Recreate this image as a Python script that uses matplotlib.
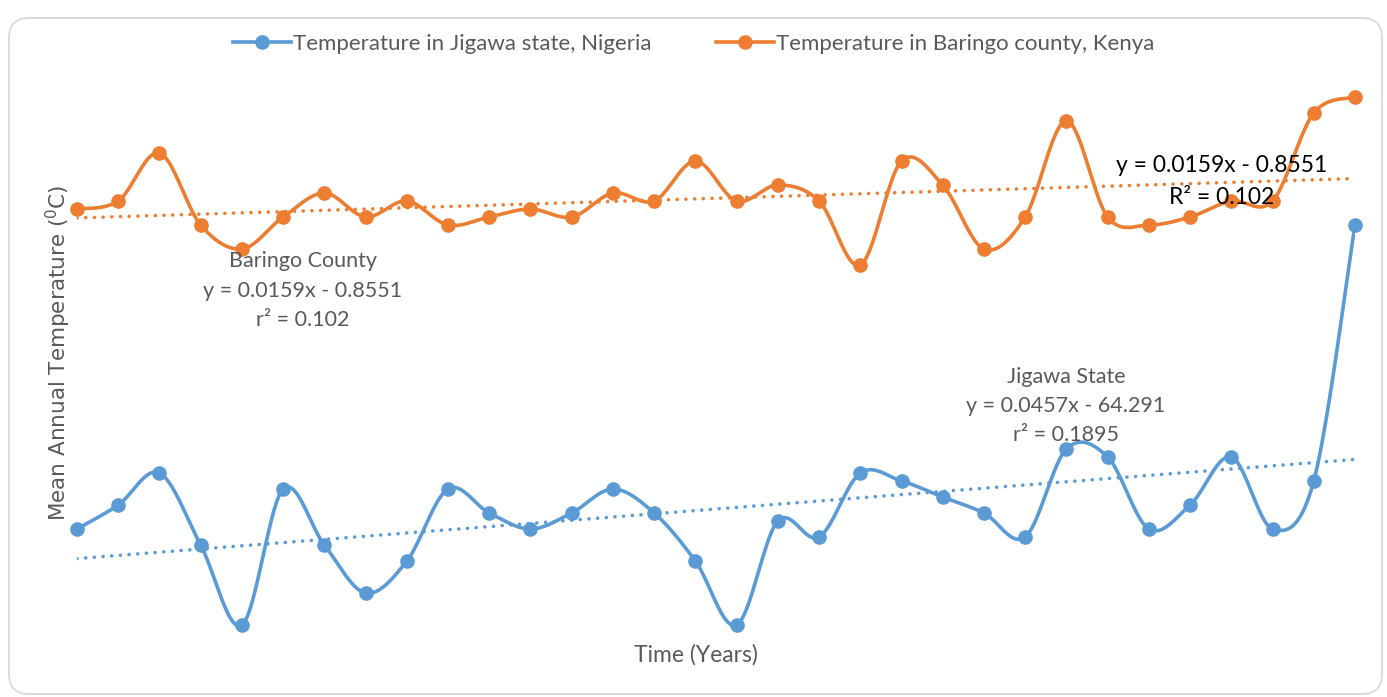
import numpy as np
import matplotlib.pyplot as plt
from matplotlib.patches import FancyBboxPatch
from matplotlib.lines import Line2D

# ---- data (deg C) ----
years = list(range(1980, 2012))

jigawa = [26.1, 26.4, 26.8, 25.9, 24.9, 26.6, 25.9, 25.3, 25.7, 26.6,
          26.3, 26.1, 26.3, 26.6, 26.3, 25.7, 24.9, 26.2, 26.0, 26.8,
          26.7, 26.5, 26.3, 26.0, 27.1, 27.0, 26.1, 26.4, 27.0, 26.1,
          26.7, 29.9]

baringo = [30.1, 30.2, 30.8, 29.9, 29.6, 30.0, 30.3, 30.0, 30.2, 29.9,
           30.0, 30.1, 30.0, 30.3, 30.2, 30.7, 30.2, 30.4, 30.2, 29.4,
           30.7, 30.4, 29.6, 30.0, 31.2, 30.0, 29.9, 30.0, 30.2, 30.2,
           31.3, 31.5]

BLUE = "#5B9BD5"
ORANGE = "#ED7D31"
GREY = "#595959"

W, H = 1387, 697


def smooth(x, y, n=24):
    # excel-like smoothed line: bezier through the points
    P = np.column_stack([x, y]).astype(float)
    P = np.vstack([P[0], P, P[-1]])
    t = np.linspace(0, 1, n)[:, None]
    segs = []
    for i in range(len(x) - 1):
        p0 = P[i + 1]
        p3 = P[i + 2]
        c1 = p0 + (P[i + 2] - P[i]) / 6
        c2 = p3 - (P[i + 3] - P[i + 1]) / 6
        b = ((1 - t) ** 3) * p0 + 3 * ((1 - t) ** 2) * t * c1 \
            + 3 * (1 - t) * t ** 2 * c2 + t ** 3 * p3
        segs.append(b if i == 0 else b[1:])
    s = np.vstack(segs)
    return s[:, 0], s[:, 1]


fig = plt.figure(figsize=(W / 100, H / 100), dpi=100)
ax = fig.add_axes([77 / W, (H - 681) / H, (1355 - 77) / W, (681 - 65) / H])
ax.set_xlim(1980, 2011)
ax.set_ylim(24.2, 31.9)
ax.axis("off")

for vals, col in [(jigawa, BLUE), (baringo, ORANGE)]:
    sx, sy = smooth(years, vals)
    ax.plot(sx, sy, color=col, lw=2.6, zorder=2, solid_capstyle="round")
    ax.plot(years, vals, "o", color=col, ms=9.5, zorder=4, clip_on=False)
    k, c = np.polyfit(years, vals, 1)
    xt = np.array([years[0], years[-1]])
    ax.plot(xt, k * xt + c, color=col, lw=2.6, ls=(0, (0.01, 2.4)),
            dash_capstyle="round", zorder=3)

# trendline labels
lab = dict(ha="center", va="center", color=GREY, fontsize=15.5, family="Lato")
fig.text(303 / W, 1 - 261 / H, "Baringo County", **lab)
fig.text(303 / W, 1 - 291 / H, "y = 0.0159x - 0.8551", **lab)
fig.text(303 / W, 1 - 320 / H, "r² = 0.102", **lab)
fig.text(1066 / W, 1 - 377 / H, "Jigawa State", **lab)
fig.text(1066 / W, 1 - 406 / H, "y = 0.0457x - 64.291", **lab)
fig.text(1066 / W, 1 - 435 / H, "r² = 0.1895", **lab)

blk = dict(ha="center", va="center", color="black", fontsize=16.5, family="Lato")
fig.text(1222 / W, 1 - 166 / H, "y = 0.0159x - 0.8551", **blk)
fig.text(1222 / W, 1 - 198 / H, "R² = 0.102", **blk)

# axis titles
fig.text(58 / W, 1 - 353 / H, "Mean Annual Temperature ($^{0}$C)", rotation=90,
         ha="center", va="center", color=GREY, fontsize=15.5, family="DejaVu Sans")
fig.text(696 / W, 1 - 655 / H, "Time (Years)", ha="center", va="center",
         color=GREY, fontsize=16.5, family="Lato")

# legend
handles = [Line2D([], [], color=BLUE, lw=2.6, marker="o", ms=9.5),
           Line2D([], [], color=ORANGE, lw=2.6, marker="o", ms=9.5)]
fig.legend(handles, ["Temperature in Jigawa state, Nigeria",
                     "Temperature in Baringo county, Kenya"],
           loc="center", bbox_to_anchor=(0.5, 1 - 44 / H), ncol=2,
           frameon=False, handlelength=2.6, columnspacing=2.9,
           handletextpad=0.1, prop={"family": "Lato", "size": 16},
           labelcolor=GREY)

# chart border
fig.patches.append(FancyBboxPatch((9, 3), 1373, 676,
                                  boxstyle="round,pad=0,rounding_size=20",
                                  fc="none", ec="#D9D9D9", lw=1.3,
                                  transform=None))

fig.savefig("out.png", dpi=100)
